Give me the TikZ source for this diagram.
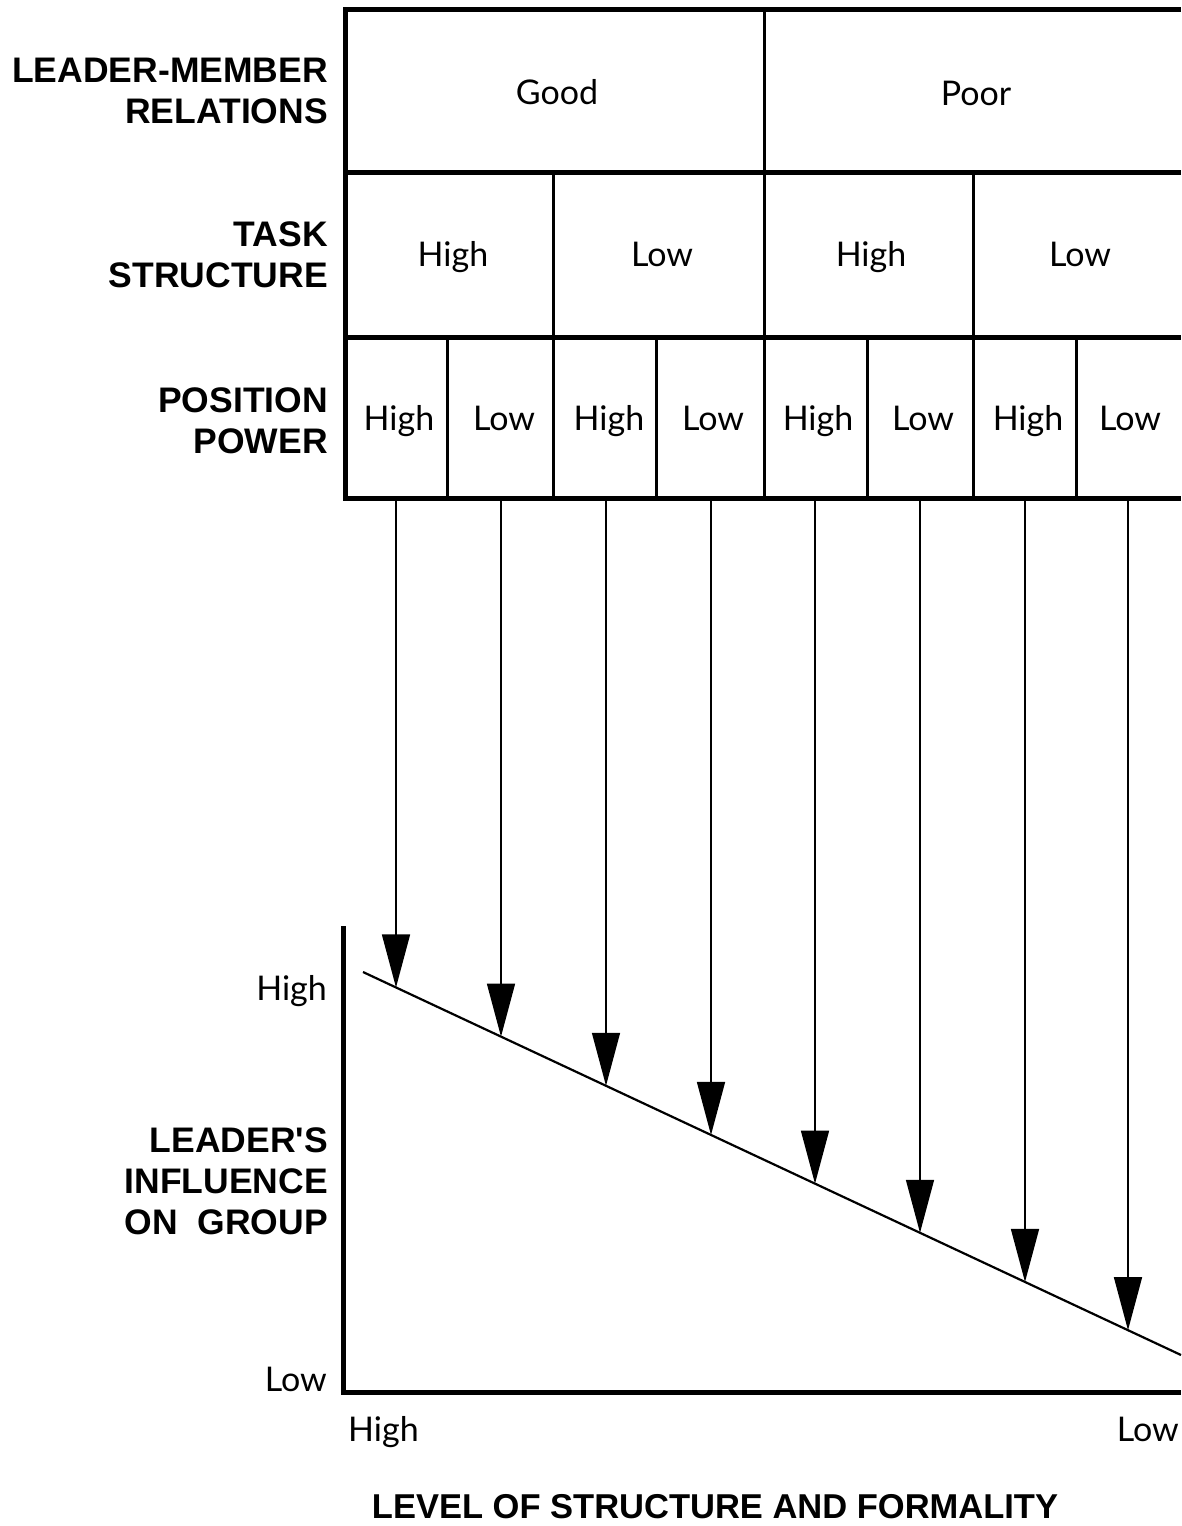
\documentclass[tikz,border=0pt]{standalone}
\usepackage{fontspec}
\setmainfont{Lato}
\newfontfamily\headfont{Liberation Sans}
\usetikzlibrary{arrows.meta}
\begin{document}
\begin{tikzpicture}[x=1pt,y=-1pt,
  thickrule/.style={line width=5pt},
  cellrule/.style={line width=3pt},
  cell/.style={font=\fontsize{34}{40}\selectfont, inner sep=0pt, anchor=base},
  head/.style={font=\headfont\bfseries\fontsize{35.5}{41}\selectfont, align=right, anchor=east, inner sep=0pt},
  pointer/.style={line width=1.5pt, -{Triangle[length=53pt,width=28pt]}},
]
\useasboundingbox (0,0) rectangle (1181,1526);
% table rules
\draw[thickrule] (344,9.5) -- (1181,9.5);
\draw[thickrule] (344,172.5) -- (1181,172.5);
\draw[thickrule] (344,337.5) -- (1181,337.5);
\draw[thickrule] (344,498) -- (1181,498);
\draw[thickrule] (345,7) -- (345,500.5);
\draw[cellrule] (764,9) -- (764,172);
\foreach \x in {553,764,973} \draw[cellrule] (\x,172) -- (\x,337);
\foreach \x in {447,553,656,764,867,973,1076} \draw[cellrule] (\x,337) -- (\x,498);
% row labels
\node[head] (lmr) at (328,91) {LEADER-MEMBER\\RELATIONS};
\node[head] (ts) at (328,255) {TASK\\STRUCTURE};
\node[head] (pp) at (328,421) {POSITION\\POWER};
% row 1
\node[cell] (good) at (557,104) {Good};
\node[cell] (poor) at (976,105) {Poor};
% row 2
\node[cell] (t1) at (453,266) {High};
\node[cell] (t2) at (662,266) {Low};
\node[cell] (t3) at (871,266) {High};
\node[cell] (t4) at (1080,266) {Low};
% row 3
\foreach \i/\x/\t in {1/399/High,2/504/Low,3/609/High,4/713/Low,5/818/High,6/923/Low,7/1028/High,8/1130/Low}
  \node[cell] (p\i) at (\x,430) {\t};
% chart axes
\draw[thickrule] (343,926) -- (343,1392.5) -- (1181,1392.5);
\draw[line width=2.2pt] (363,972) coordinate (ls) -- (1181,1355) coordinate (le);
% arrows
\foreach \i/\x in {1/396,2/501,3/606,4/711,5/815,6/920,7/1025,8/1128} {
  \coordinate (s\i) at (\x,500);
  \coordinate (e\i) at (\x,{972+(\x-363)*0.46822});
  \draw[pointer] (s\i) -- (e\i);
}
% axis labels
\node[cell, anchor=base east] (yhi) at (327,1000) {High};
\node[cell, anchor=base east] (ylo) at (327,1391) {Low};
\node[cell, anchor=base west] (xhi) at (348,1441) {High};
\node[cell, anchor=base east] (xlo) at (1179,1441) {Low};
\node[head] (inf) at (328,1181) {LEADER'S\\INFLUENCE\\ON\ \ GROUP};
\node[head, anchor=center, align=center, font=\headfont\bfseries\fontsize{34.5}{41}\selectfont] (lvl) at (715,1507) {LEVEL OF STRUCTURE AND FORMALITY};
\end{tikzpicture}
\end{document}
